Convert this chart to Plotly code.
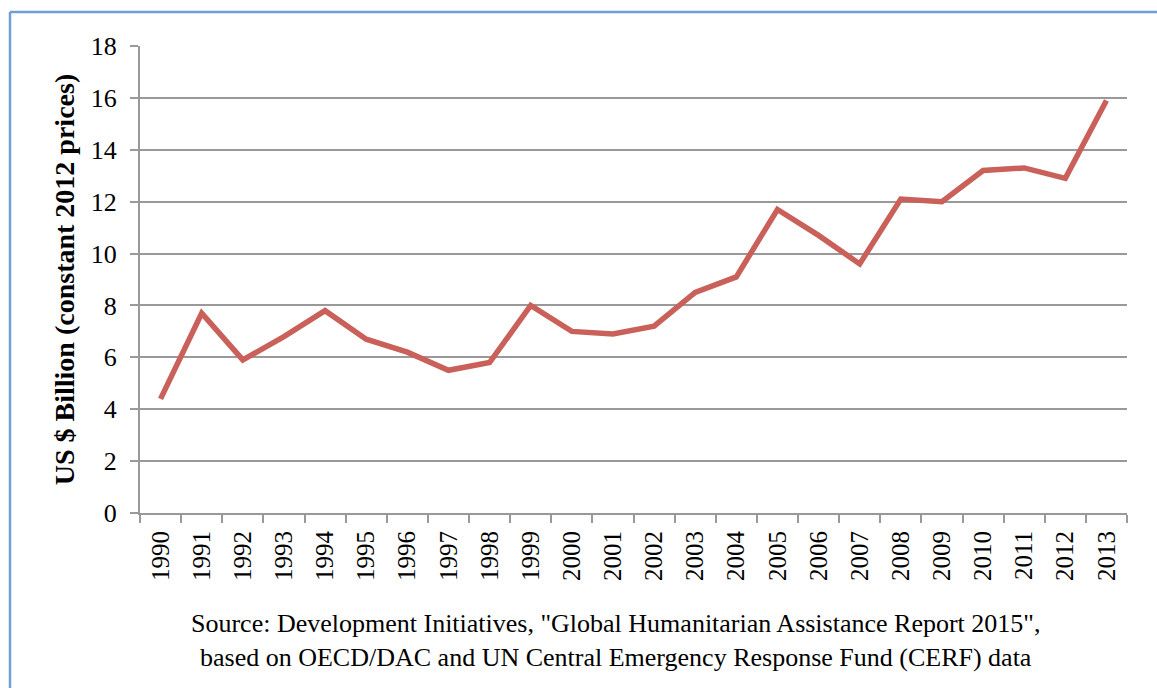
import plotly.graph_objects as go

years = [str(y) for y in range(1990, 2014)]
values = [4.4, 7.7, 5.9, 6.8, 7.8, 6.7, 6.2, 5.5, 5.8, 8.0, 7.0, 6.9, 7.2, 8.5,
          9.1, 11.7, 10.7, 9.6, 12.1, 12.0, 13.2, 13.3, 12.9, 15.9]
y_title = "US $ Billion (constant 2012 prices)"
source_lines = ['Source: Development Initiatives, "Global Humanitarian Assistance Report 2015",',
                'based on OECD/DAC and UN Central Emergency Response Fund (CERF) data']

W, H = 1157, 688
L, R, T, B = 140, 30, 46, 175
pw, ph = W - L - R, H - T - B

fig = go.Figure()
fig.add_trace(go.Scatter(x=years, y=values, mode="lines",
                         line=dict(color="#c9605a", width=5.5), hoverinfo="x+y"))

serif = "Liberation Serif"
fig.update_layout(
    width=W, height=H,
    margin=dict(l=L, r=R, t=T, b=B),
    paper_bgcolor="white", plot_bgcolor="white",
    showlegend=False,
    font=dict(family=serif, color="black"),
    xaxis=dict(type="category", range=[-0.5, 23.5], tickangle=-90,
               tickfont=dict(size=25, family=serif, color="black"), showgrid=False,
               showline=True, linecolor="#999999", linewidth=2,
               ticks="outside", tickson="boundaries", ticklen=8,
               tickcolor="#999999", tickwidth=2, zeroline=False,
               ticklabelstandoff=6),
    yaxis=dict(range=[0, 18], dtick=2, tickfont=dict(size=26, family=serif, color="black"),
               showgrid=True, gridcolor="#999999", gridwidth=2,
               showline=True, linecolor="#999999", linewidth=2,
               ticks="outside", ticklen=8, tickcolor="#999999", tickwidth=2,
               zeroline=False, ticklabelstandoff=8,
               title=dict(text="<b>" + y_title + "</b>",
                          font=dict(size=28, family=serif, color="black"),
                          standoff=8)),
)

bx = (10 - L) / pw
by = (H - B - 12) / ph
fig.add_shape(type="line", xref="paper", yref="paper", x0=bx, x1=bx, y0=-1, y1=by,
              line=dict(color="#6f9fd8", width=2.5))
fig.add_shape(type="line", xref="paper", yref="paper", x0=bx, x1=1.2, y0=by, y1=by,
              line=dict(color="#6f9fd8", width=2.5))

fig.add_annotation(xref="paper", yref="paper", x=(615 - L) / pw, y=(H - B - 640) / ph,
                   text="<br>".join(source_lines), showarrow=False,
                   font=dict(size=26, family=serif, color="black"),
                   xanchor="center", yanchor="middle", align="center")

fig.write_html("out.html")
